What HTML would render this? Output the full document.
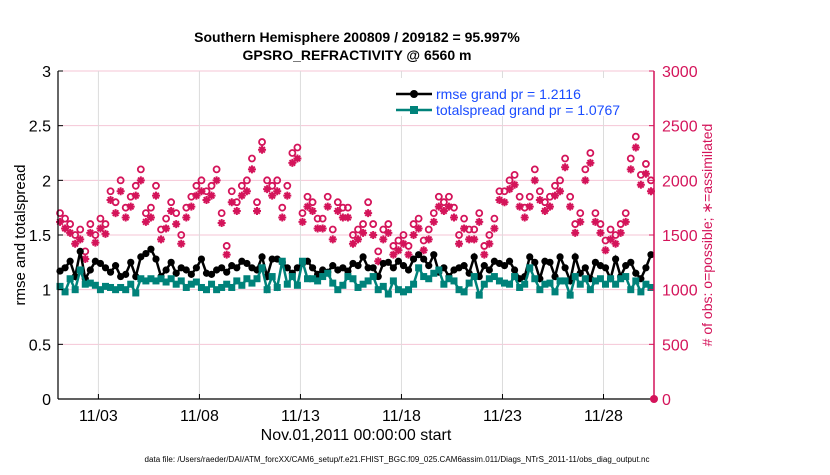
<!DOCTYPE html>
<html><head><meta charset="utf-8"><style>
body{margin:0;background:#fff;width:830px;height:470px;overflow:hidden}
svg text{font-family:"Liberation Sans",Arial,sans-serif}
</style></head><body>
<svg id="chart" width="830" height="470">
<rect width="830" height="470" fill="#fff"/>
<g id="grid"></g><g id="marks"></g><g id="axes"></g>
<text x="357" y="42" text-anchor="middle" font-size="14" font-weight="bold">Southern Hemisphere 200809 / 209182 = 95.997%</text>
<text x="357" y="60" text-anchor="middle" font-size="14" font-weight="bold">GPSRO_REFRACTIVITY @ 6560 m</text>
<text transform="translate(25,235) rotate(-90)" text-anchor="middle" font-size="15">rmse and totalspread</text>
<text transform="translate(712,235) rotate(-90)" text-anchor="middle" font-size="14" fill="#d4145a"># of obs: o=possible; ∗=assimilated</text>
<text x="356" y="440" text-anchor="middle" font-size="16">Nov.01,2011 00:00:00 start</text>
<text x="397" y="462" text-anchor="middle" font-size="8" textLength="505">data file: /Users/raeder/DAI/ATM_forcXX/CAM6_setup/f.e21.FHIST_BGC.f09_025.CAM6assim.011/Diags_NTrS_2011-11/obs_diag_output.nc</text>
<g>
<rect x="390" y="78" width="262" height="38" fill="#fff"/>
<line x1="396" y1="94" x2="432" y2="94" stroke="#000" stroke-width="2.5"/>
<circle cx="414" cy="94" r="4" fill="#000"/>
<text x="436" y="99" font-size="14" fill="#1a4cff">rmse grand pr = 1.2116</text>
<line x1="396" y1="110" x2="432" y2="110" stroke="#00827a" stroke-width="2.5"/>
<rect x="410" y="106" width="8" height="8" fill="#00827a"/>
<text x="436" y="115" font-size="14" fill="#1a4cff">totalspread grand pr = 1.0767</text>
</g>
</svg>
<script>
const rmse=[1.17,1.2,1.26,1.12,1.35,1.1,1.18,1.26,1.24,1.2,
1.16,1.22,1.12,1.14,1.25,1.12,1.3,1.33,1.37,1.28,
1.12,1.18,1.25,1.15,1.2,1.18,1.14,1.2,1.28,1.15,
1.14,1.18,1.2,1.16,1.22,1.2,1.26,1.24,1.2,1.18,
1.3,1.12,1.28,1.28,1.25,1.2,1.15,1.2,1.24,1.26,
1.2,1.14,1.18,1.16,1.22,1.18,1.2,1.17,1.24,1.22,
1.3,1.2,1.2,1.12,1.24,1.25,1.2,1.26,1.22,1.18,
1.28,1.32,1.28,1.22,1.32,1.16,1.2,1.12,1.18,1.2,
1.22,1.15,1.3,1.12,1.22,1.18,1.26,1.24,1.22,1.26,
1.18,1.1,1.12,1.3,1.25,1.1,1.26,1.25,1.12,1.3,
1.2,1.08,1.3,1.15,1.2,1.1,1.25,1.22,1.2,1.1,
1.28,1.12,1.22,1.25,1.15,1.1,1.2,1.32];
const spread=[1.03,0.98,1.1,1.0,1.18,1.05,1.06,1.04,1.0,1.03,
1.02,1.0,1.02,1.0,1.05,0.97,1.1,1.08,1.1,1.08,
1.1,1.07,1.1,1.05,1.08,1.02,1.05,1.07,1.02,1.0,
1.05,1.0,1.02,1.05,1.02,1.08,1.04,1.1,1.06,1.1,
1.2,1.0,1.12,1.02,1.26,1.05,1.12,1.04,1.26,1.1,
1.1,1.08,1.12,1.15,1.06,1.0,1.04,1.12,1.1,1.02,
1.05,1.08,1.12,1.0,1.03,0.96,1.08,1.0,0.98,1.0,
1.05,1.2,1.12,1.1,1.15,1.18,1.05,1.1,1.08,1.0,
0.98,1.06,1.12,0.95,1.05,1.1,1.12,1.08,1.06,1.05,
1.12,1.02,1.05,1.2,1.1,1.0,1.05,1.06,0.98,1.08,
1.08,0.95,1.12,1.05,1.1,1.0,1.08,1.1,1.05,1.1,
1.05,1.1,1.12,1.0,1.08,0.98,1.05,1.02];
const possible=[1700,1650,1600,1500,1550,1350,1600,1500,1650,1600,
1900,1800,2000,1750,1850,1950,2100,1700,1750,1950,
1550,1650,1800,1700,1500,1750,1850,1950,2000,1900,
1950,2100,1700,1400,1900,1800,1950,2000,2200,1800,
2350,2000,1950,2000,1750,1950,2250,2300,1700,1850,
1800,1650,1650,1850,1550,1800,1750,1750,1500,1550,
1600,1800,1600,1350,1550,1600,1400,1450,1500,1400,
1600,1650,1450,1550,1700,1850,1800,1850,1750,1500,
1650,1550,1550,1700,1400,1500,1650,1900,1900,2000,
2050,1850,1750,1850,2100,1900,1800,1850,1950,2000,
2200,1850,1600,1700,2100,2250,1700,1600,1450,1550,
1500,1600,1700,2200,2400,2050,2150,2000];
const assimilated=[1620,1560,1520,1420,1460,1280,1520,1430,1560,1510,
1820,1700,1900,1660,1760,1860,2000,1620,1660,1860,
1460,1560,1720,1600,1420,1660,1760,1860,1900,1820,
1860,2000,1610,1320,1800,1720,1860,1900,2100,1720,
2280,1920,1860,1900,1660,1860,2160,2200,1620,1760,
1720,1560,1560,1760,1460,1720,1660,1660,1420,1460,
1520,1700,1500,1260,1460,1520,1320,1360,1420,1320,
1500,1560,1360,1460,1620,1760,1720,1760,1660,1420,
1560,1460,1460,1620,1320,1420,1560,1820,1800,1920,
1960,1760,1660,1760,2000,1820,1720,1760,1860,1900,
2120,1760,1520,1620,2000,2160,1620,1520,1360,1460,
1420,1520,1620,2100,2300,1960,2060,1900];
const xTicks=[2,7,12,17,22,27];
const xTickLabels=["11/03","11/08","11/13","11/18","11/23","11/28"];
const yTicks=[0,0.5,1,1.5,2,2.5,3];
const yTickLabels=["0","0.5","1","1.5","2","2.5","3"];
const y2Ticks=[0,500,1000,1500,2000,2500,3000];
const y2TickLabels=["0","500","1000","1500","2000","2500","3000"];
const t0=0.1, dt=0.25;
const X0=58,X1=654,Y0=399,Y1=71,DAYS=29.5;
const xs=d=>X0+(d/DAYS)*(X1-X0);
const ys=v=>Y0-(v/3)*(Y0-Y1);
const y2s=v=>Y0-(v/3000)*(Y0-Y1);
const NS="http://www.w3.org/2000/svg";
function mk(tag,attrs,parent){const e=document.createElementNS(NS,tag);for(const k in attrs)e.setAttribute(k,attrs[k]);parent.appendChild(e);return e;}
const grid=document.getElementById('grid'),marks=document.getElementById('marks'),axes=document.getElementById('axes');
yTicks.forEach((v,i)=>{
 const l=mk('line',{x1:X0,x2:X1,y1:ys(v),y2:ys(v),stroke:'#f4c6d6','stroke-width':1},grid);
 
 
 mk('line',{x1:X0,x2:X0+5,y1:ys(v),y2:ys(v),stroke:'#000'},axes);
 const t=mk('text',{x:X0-7,y:ys(v)+6,'text-anchor':'end','font-size':16},axes);t.textContent=yTickLabels[i];
 
 
});
y2Ticks.forEach((v,i)=>{
 mk('line',{x1:X1-5,x2:X1,y1:y2s(v),y2:y2s(v),stroke:'#d4145a'},axes);
 const t=mk('text',{x:X1+8,y:y2s(v)+6,'font-size':16,fill:'#d4145a'},axes);t.textContent=y2TickLabels[i];
 
 
});
xTicks.forEach((d,i)=>{
 const l=mk('line',{x1:xs(d),x2:xs(d),y1:Y1,y2:Y0,stroke:'#dcdcdc'},grid);
 
 
 mk('line',{x1:xs(d),x2:xs(d),y1:Y0,y2:Y0-5,stroke:'#000'},axes);
 const t=mk('text',{x:xs(d),y:Y0+22,'text-anchor':'middle','font-size':16},axes);t.textContent=xTickLabels[i];
 
 
});
mk('line',{x1:X0,x2:X0,y1:Y1,y2:Y0,stroke:'#000','stroke-width':1.2},axes);
mk('line',{x1:X0,x2:X1,y1:Y0,y2:Y0,stroke:'#000','stroke-width':1.2},axes);
mk('line',{x1:X1,x2:X1,y1:Y1,y2:Y0,stroke:'#d4145a','stroke-width':1.5},axes);
const endDot=mk('circle',{cx:X1,cy:Y0,r:4,fill:'#d4145a'},axes);


possible.forEach((v,i)=>{
 const c=mk('circle',{cx:xs(t0+dt*i),cy:y2s(v),r:3,fill:'none',stroke:'#d4145a','stroke-width':1.8},marks);
 
 
});
assimilated.forEach((v,i)=>{
 const x=xs(t0+dt*i),y=y2s(v),r=4;
 const d=`M${x-r},${y}H${x+r}M${x},${y-r}V${y+r}M${x-r*0.7},${y-r*0.7}L${x+r*0.7},${y+r*0.7}M${x-r*0.7},${y+r*0.7}L${x+r*0.7},${y-r*0.7}`;
 const g=mk('path',{d:d,stroke:'#d4145a','stroke-width':2,fill:'none'},marks);
 
 
});
function series(arr,color,name,sq){
 const p=mk('polyline',{points:arr.map((v,i)=>xs(t0+dt*i)+','+ys(v)).join(' '),fill:'none',stroke:color,'stroke-width':2.5},marks);
 
 
 arr.forEach((v,i)=>{
  const x=xs(t0+dt*i),y=ys(v);
  const m=sq?mk('rect',{x:x-3.5,y:y-3.5,width:7,height:7,fill:color},marks):mk('circle',{cx:x,cy:y,r:3.6,fill:color},marks);
  
  
 });
}
series(rmse,'#000','rmse',false);
series(spread,'#00827a','totalspread',true);
</script>
</body></html>
